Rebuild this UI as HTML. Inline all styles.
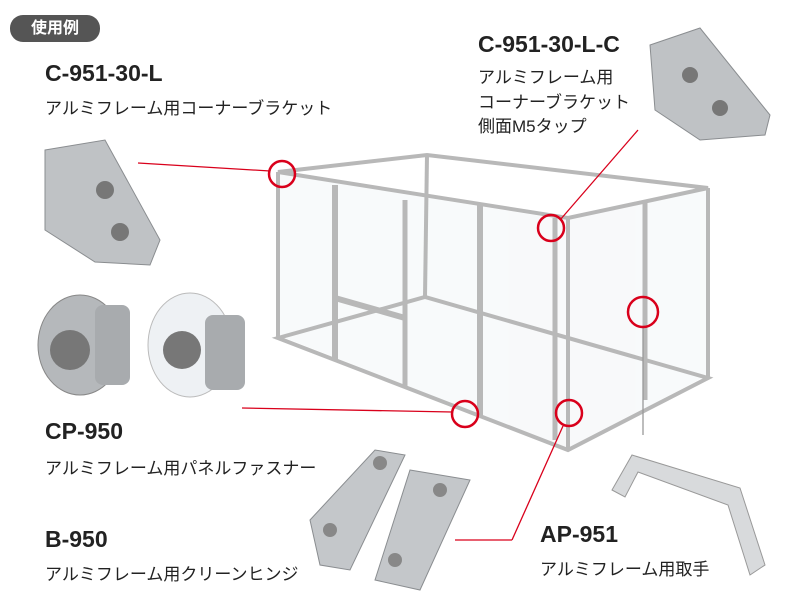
<!DOCTYPE html>
<html><head><meta charset="utf-8"><style>
body{margin:0;width:800px;height:600px;background:#fff;overflow:hidden;position:relative;font-family:"Liberation Sans","Noto Sans CJK JP",sans-serif;color:#222}
.t{position:absolute;white-space:nowrap}
.b{font-weight:bold;font-size:23px}
.j{font-size:17px}
</style></head><body>
<svg width="800" height="600" style="position:absolute;left:0;top:0">
<g fill="#f4f6f8" stroke="none" opacity="0.6">
<polygon points="280,174 566,220 566,448 280,336"/>
<polygon points="570,218 706,190 706,376 570,448"/>
</g>
<g fill="none" stroke="#b8b8b8" stroke-width="4">
<polygon points="278,172 427,155 708,188 568,218" />
<polygon points="278,338 425,297 708,378 568,450" />
<line x1="278" y1="172" x2="278" y2="338"/>
<line x1="568" y1="218" x2="568" y2="450"/>
<line x1="708" y1="188" x2="708" y2="378"/>
<line x1="427" y1="155" x2="425" y2="297"/>
<line x1="335" y1="185" x2="335" y2="360" stroke-width="6"/>
<line x1="405" y1="200" x2="405" y2="388" stroke-width="5"/>
<line x1="480" y1="205" x2="480" y2="415" stroke-width="6"/>
<line x1="555" y1="218" x2="555" y2="440" stroke-width="5"/>
<line x1="645" y1="200" x2="645" y2="400" stroke-width="5"/>
<line x1="335" y1="298" x2="405" y2="318" stroke-width="6"/>
</g>
<g fill="none" stroke="#d9001b" stroke-width="1.3">
<line x1="138" y1="163" x2="270" y2="171"/>
<line x1="560" y1="220" x2="638" y2="130"/>
<line x1="242" y1="408" x2="452" y2="412"/>
<line x1="563" y1="426" x2="512" y2="540"/>
<line x1="512" y1="540" x2="455" y2="540"/>
</g>
<line x1="643" y1="327" x2="643" y2="435" stroke="#999" stroke-width="1.3"/>
<g fill="none" stroke="#d9001b" stroke-width="2.5">
<circle cx="282" cy="174" r="13"/>
<circle cx="551" cy="228" r="13"/>
<circle cx="643" cy="312" r="15"/>
<circle cx="465" cy="414" r="13"/>
<circle cx="569" cy="413" r="13"/>
</g>
<polygon points="45,150 105,140 160,240 150,265 95,262 45,230" fill="#bfc2c5" stroke="#8a8d90"/>
<circle cx="105" cy="190" r="9" fill="#777"/><circle cx="120" cy="232" r="9" fill="#777"/>
<polygon points="650,45 700,28 770,115 765,135 700,140 655,110" fill="#bfc2c5" stroke="#8a8d90"/>
<circle cx="690" cy="75" r="8" fill="#777"/><circle cx="720" cy="108" r="8" fill="#777"/>
<ellipse cx="80" cy="345" rx="42" ry="50" fill="#b5b8bb" stroke="#888"/>
<rect x="95" y="305" width="35" height="80" rx="8" fill="#a8abae"/>
<circle cx="70" cy="350" r="20" fill="#777"/>
<ellipse cx="190" cy="345" rx="42" ry="52" fill="#eef1f4" stroke="#bbb"/>
<rect x="205" y="315" width="40" height="75" rx="8" fill="#a8abae"/>
<circle cx="182" cy="350" r="19" fill="#777"/>
<polygon points="310,520 375,450 405,455 350,570 320,565" fill="#c4c7ca" stroke="#8a8d90"/>
<polygon points="410,470 470,480 420,590 375,580" fill="#c4c7ca" stroke="#8a8d90"/>
<circle cx="380" cy="463" r="7" fill="#888"/><circle cx="330" cy="530" r="7" fill="#888"/>
<circle cx="440" cy="490" r="7" fill="#888"/><circle cx="395" cy="560" r="7" fill="#888"/>
<path d="M612,490 L632,455 L740,488 L765,565 L750,575 L728,505 L638,472 L625,497 Z" fill="#d8dadc" stroke="#999"/>
</svg>
<div class="t" style="left:10px;top:15px;width:90px;height:27px;background:#555;border-radius:13px;color:#fff;font-size:16px;font-weight:bold;text-align:center;line-height:27px">使用例</div>
<div class="t b" style="left:45px;top:60px">C-951-30-L</div>
<div class="t j" style="left:45px;top:94px">アルミフレーム用コーナーブラケット</div>
<div class="t b" style="left:478px;top:31px">C-951-30-L-C</div>
<div class="t j" style="left:478px;top:63px">アルミフレーム用</div>
<div class="t j" style="left:478px;top:88px">コーナーブラケット</div>
<div class="t j" style="left:478px;top:112px">側面M5タップ</div>
<div class="t b" style="left:45px;top:418px">CP-950</div>
<div class="t j" style="left:45px;top:454px">アルミフレーム用パネルファスナー</div>
<div class="t b" style="left:45px;top:526px">B-950</div>
<div class="t j" style="left:45px;top:560px">アルミフレーム用クリーンヒンジ</div>
<div class="t b" style="left:540px;top:521px">AP-951</div>
<div class="t j" style="left:540px;top:555px">アルミフレーム用取手</div>
</body></html>
